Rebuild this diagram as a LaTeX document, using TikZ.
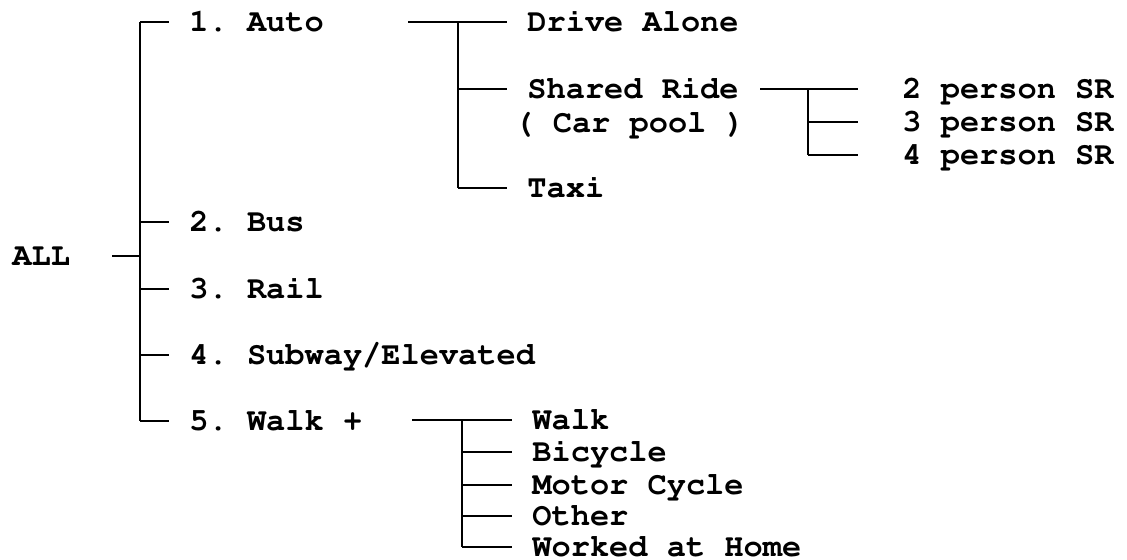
\documentclass[tikz,border=0pt]{standalone}
\usepackage[T1]{fontenc}
\renewcommand{\ttdefault}{pcr}
\usepackage{tikz}
\usetikzlibrary{positioning}

\tikzset{
  mode/.style={anchor=west, inner sep=0pt, font=\ttfamily\bfseries\fontsize{16}{18}\selectfont\frenchspacing,
    text height=9.1pt, text depth=0pt},
  branch/.style={line width=1pt},
}

\begin{document}
\begin{tikzpicture}[x=0.5pt, y=-0.5pt]
	\useasboundingbox (0,0) rectangle (1127,560);
	% Modes
	\node[mode] (all) at (12,256) {ALL};
	\node[mode] (auto) at (189,22) {1. Auto};
	\node[mode] (bus) at (189,222) {2. Bus};
	\node[mode] (rail) at (189,289) {3. Rail};
	\node[mode] (subway) at (189,355) {4. Subway/Elevated};
	\node[mode] (walkp) at (189,421) {5. Walk +};
	% Auto submodes
	\node[mode] (drive) at (527,22) {Drive Alone};
	\node[mode] (shared) at (527,89) {Shared Ride};
	\node[mode] (carpool) at (514,123) {( Car pool )};
	\node[mode] (taxi) at (527,188) {Taxi};
	% Shared ride submodes
	\node[mode] (sr2) at (902,89) {2 person SR};
	\node[mode] (sr3) at (902,122) {3 person SR};
	\node[mode] (sr4) at (902,155) {4 person SR};
	% Walk submodes
	\node[mode] (walk) at (532,420) {Walk};
	\node[mode] (bicycle) at (532,452) {Bicycle};
	\node[mode] (motor) at (532,485) {Motor Cycle};
	\node[mode] (other) at (532,516) {Other};
	\node[mode] (home) at (532,547) {Worked at Home};

	% Main split
	\coordinate (alll) at (112,256);
	\coordinate (allj) at (140,256);
	\draw[branch] (alll) -- (allj);
	\draw[branch] (allj |- auto.west) -- (allj |- walkp.west);
	\foreach \m in {auto,bus,rail,subway,walkp}
		\draw[branch, shorten >=10pt] (allj |- \m.west) -- (\m.west);

	% Auto split
	\coordinate (autol) at (408,22);
	\coordinate (autoj) at (458,22);
	\draw[branch, shorten >=10pt] (autol) -- (drive.west);
	\draw[branch] (autoj) -- (autoj |- taxi.west);
	\foreach \m in {shared,taxi}
		\draw[branch, shorten >=10pt] (autoj |- \m.west) -- (\m.west);

	% Shared ride split
	\coordinate (srl) at (760,89);
	\coordinate (srj) at (808,89);
	\draw[branch, shorten >=22pt] (srl) -- (sr2.west);
	\draw[branch] (srj) -- (srj |- sr4.west);
	\foreach \m in {sr3,sr4}
		\draw[branch, shorten >=22pt] (srj |- \m.west) -- (\m.west);

	% Walk split
	\coordinate (walkl) at (412,420);
	\coordinate (walkj) at (462,420);
	\draw[branch, shorten >=10pt] (walkl) -- (walk.west);
	\draw[branch] (walkj) -- (walkj |- home.west);
	\foreach \m in {bicycle,motor,other,home}
		\draw[branch, shorten >=10pt] (walkj |- \m.west) -- (\m.west);
\end{tikzpicture}
\end{document}
